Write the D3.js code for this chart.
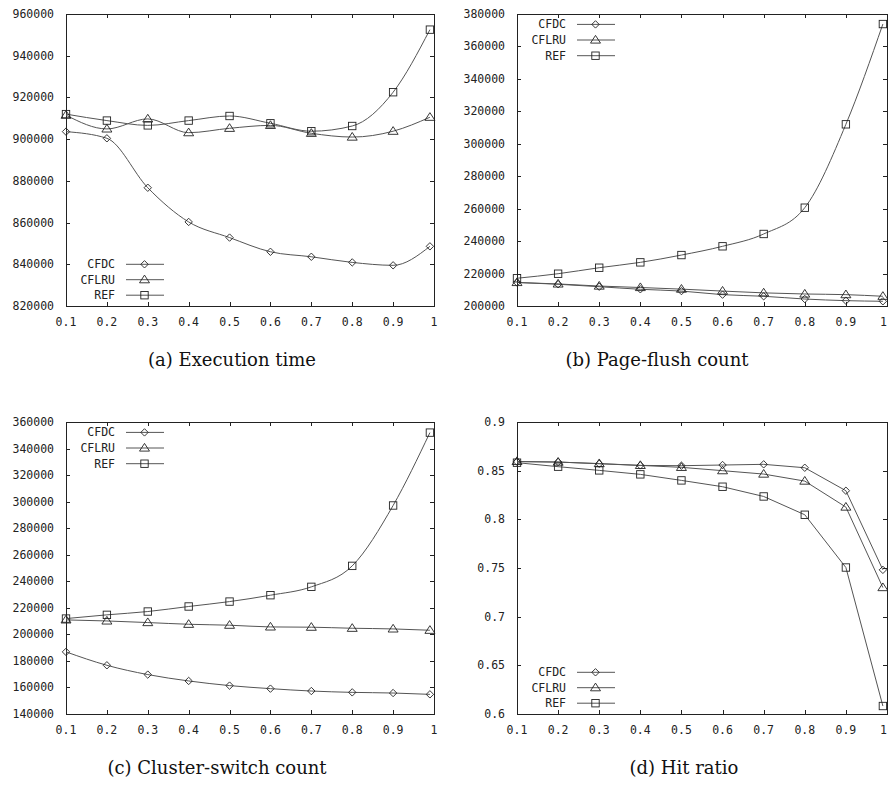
<!DOCTYPE html>
<html>
<head>
<meta charset="utf-8">
<script src="https://cdn.jsdelivr.net/npm/d3@7"></script>
<style>
  html, body { margin: 0; padding: 0; background: #fff; }
  svg { display: block; }
  .tick-label { font-family: "DejaVu Sans Mono", monospace; font-size: 11.5px; fill: #222; }
  .legend-label { font-family: "DejaVu Sans Mono", monospace; font-size: 11.5px; fill: #222; }
  .caption { font-family: "DejaVu Serif", "Liberation Serif", serif; font-size: 18px; fill: #111; }
</style>
</head>
<body>
<svg id="chart" width="888" height="785"></svg>
<script>
// ---------- data ----------
const xValues = [0.1, 0.2, 0.3, 0.4, 0.5, 0.6, 0.7, 0.8, 0.9, 0.99];
const xTicks = [0.1, 0.2, 0.3, 0.4, 0.5, 0.6, 0.7, 0.8, 0.9, 1];
const seriesNames = ["CFDC", "CFLRU", "REF"];

const execCFDC  = [903600, 900400, 876700, 860300, 852800, 846000, 843600, 840900, 839500, 848600];
const execCFLRU = [911500, 904900, 909700, 903100, 905200, 906600, 902800, 901000, 903800, 910500];
const execREF   = [912000, 908900, 906600, 908900, 911100, 907600, 903800, 906300, 922500, 952500];
const execTicks = [820000, 840000, 860000, 880000, 900000, 920000, 940000, 960000];

const flushCFDC  = [214500, 213400, 211900, 210300, 209200, 207000, 206000, 204300, 203300, 202900];
const flushCFLRU = [214500, 213600, 212300, 211400, 210400, 209200, 208100, 207400, 207000, 206000];
const flushREF   = [217100, 219900, 223600, 226900, 231400, 236800, 244400, 260600, 312000, 373800];
const flushTicks = [200000, 220000, 240000, 260000, 280000, 300000, 320000, 340000, 360000, 380000];

const clusterCFDC  = [186800, 176700, 169700, 164900, 161400, 159100, 157300, 156300, 155800, 154800];
const clusterCFLRU = [210900, 210100, 208900, 207600, 206900, 205600, 205400, 204600, 204100, 203100];
const clusterREF   = [211900, 214700, 217200, 221000, 224700, 229500, 235800, 251600, 297100, 352000];
const clusterTicks = [140000, 160000, 180000, 200000, 220000, 240000, 260000, 280000, 300000, 320000, 340000, 360000];

const hitCFDC  = [0.8592, 0.8589, 0.8571, 0.8554, 0.8551, 0.8558, 0.8565, 0.8530, 0.8294, 0.7481];
const hitCFLRU = [0.8595, 0.8588, 0.8573, 0.8554, 0.8534, 0.8500, 0.8465, 0.8393, 0.8126, 0.7299];
const hitREF   = [0.8582, 0.8541, 0.8503, 0.8462, 0.8400, 0.8335, 0.8235, 0.8047, 0.7505, 0.6082];
const hitTicks = [0.6, 0.65, 0.7, 0.75, 0.8, 0.85, 0.9];

const captions = ["(a) Execution time", "(b) Page-flush count", "(c) Cluster-switch count", "(d) Hit ratio"];

// ---------- layout ----------
const panels = [
  { left: 66,  top: 14,  right: 434, bottom: 306, series: [execCFDC, execCFLRU, execREF], ticks: execTicks, legend: "bottom", curve: d3.curveMonotoneX, caption: captions[0], capX: 232, capY: 366 },
  { left: 517, top: 14,  right: 887, bottom: 306, series: [flushCFDC, flushCFLRU, flushREF], ticks: flushTicks, legend: "top", curve: d3.curveMonotoneX, caption: captions[1], capX: 657, capY: 366 },
  { left: 66,  top: 422, right: 434, bottom: 714, series: [clusterCFDC, clusterCFLRU, clusterREF], ticks: clusterTicks, legend: "top", curve: d3.curveMonotoneX, caption: captions[2], capX: 217, capY: 774 },
  { left: 517, top: 422, right: 887, bottom: 714, series: [hitCFDC, hitCFLRU, hitREF], ticks: hitTicks, legend: "bottom", curve: d3.curveLinear, caption: captions[3], capX: 684, capY: 774 }
];

const W = 888;
const svg = d3.select("#chart");
const lineColor = "#555";
const markColor = "#222";

function marker(g, type, x, y) {
  if (type === 0) {
    g.append("path").attr("d", `M${x},${y-3.7}L${x+3.7},${y}L${x},${y+3.7}L${x-3.7},${y}Z`)
      .attr("fill", "none").attr("stroke", markColor).attr("stroke-width", 0.9);
  } else if (type === 1) {
    g.append("path").attr("d", `M${x},${y-4.6}L${x+5},${y+3.1}L${x-5},${y+3.1}Z`)
      .attr("fill", "none").attr("stroke", markColor).attr("stroke-width", 0.9);
  } else {
    g.append("rect").attr("x", x-3.7).attr("y", y-3.7).attr("width", 7.4).attr("height", 7.4)
      .attr("fill", "none").attr("stroke", markColor).attr("stroke-width", 0.9);
  }
}

panels.forEach(p => {
  const g = svg.append("g");
  const x = d3.scaleLinear().domain([0.1, 1]).range([p.left, p.right]);
  const y = d3.scaleLinear().domain([p.ticks[0], p.ticks[p.ticks.length - 1]]).range([p.bottom, p.top]);
  const tl = 4;

  // frame
  g.append("rect").attr("x", p.left + 0.5).attr("y", p.top + 0.5)
    .attr("width", p.right - p.left).attr("height", p.bottom - p.top)
    .attr("fill", "none").attr("stroke", "#222").attr("stroke-width", 1);

  // y ticks (mirrored)
  p.ticks.forEach(t => {
    const yy = Math.round(y(t)) + 0.5;
    g.append("line").attr("x1", p.left).attr("x2", p.left + tl).attr("y1", yy).attr("y2", yy).attr("stroke", "#222");
    g.append("line").attr("x1", p.right).attr("x2", p.right - tl).attr("y1", yy).attr("y2", yy).attr("stroke", "#222");
    g.append("text").attr("class", "tick-label").attr("x", p.left - 12).attr("y", y(t)).attr("dy", "0.35em")
      .attr("text-anchor", "end").text(String(t));
  });
  // x ticks (mirrored)
  xTicks.forEach(t => {
    const xx = Math.round(x(t)) + 0.5;
    g.append("line").attr("x1", xx).attr("x2", xx).attr("y1", p.bottom).attr("y2", p.bottom - tl).attr("stroke", "#222");
    g.append("line").attr("x1", xx).attr("x2", xx).attr("y1", p.top).attr("y2", p.top + tl).attr("stroke", "#222");
    const lbl = g.append("text").attr("class", "tick-label").attr("x", x(t)).attr("y", p.bottom + 16).attr("dy", "0.35em")
      .attr("text-anchor", "middle").text(String(t));
    const bb = lbl.node().getBBox();
    if (bb.x + bb.width > W - 1) lbl.attr("text-anchor", "end").attr("x", W - 1);
  });

  // series
  const line = d3.line().x((d, i) => x(xValues[i])).y(d => y(d)).curve(p.curve);
  p.series.forEach(s => {
    g.append("path").datum(s).attr("d", line).attr("fill", "none").attr("stroke", lineColor).attr("stroke-width", 1);
  });
  p.series.forEach((s, si) => {
    s.forEach((v, i) => marker(g, si, x(xValues[i]), y(v)));
  });

  // legend
  const rowY = p.legend === "top"
    ? [p.top + 10.4, p.top + 26, p.top + 41.7]
    : [p.bottom - 41.7, p.bottom - 26.3, p.bottom - 10.8];
  seriesNames.forEach((name, si) => {
    const ry = rowY[si];
    g.append("text").attr("class", "legend-label").attr("x", p.left + 49).attr("y", ry).attr("dy", "0.35em")
      .attr("text-anchor", "end").text(name);
    g.append("line").attr("x1", p.left + 60).attr("x2", p.left + 98).attr("y1", ry).attr("y2", ry)
      .attr("stroke", lineColor).attr("stroke-width", 1);
    marker(g, si, p.left + 78.5, ry);
  });

  // caption
  svg.append("text").attr("class", "caption").attr("x", p.capX).attr("y", p.capY)
    .attr("text-anchor", "middle").text(p.caption);
});
</script>
</body>
</html>
